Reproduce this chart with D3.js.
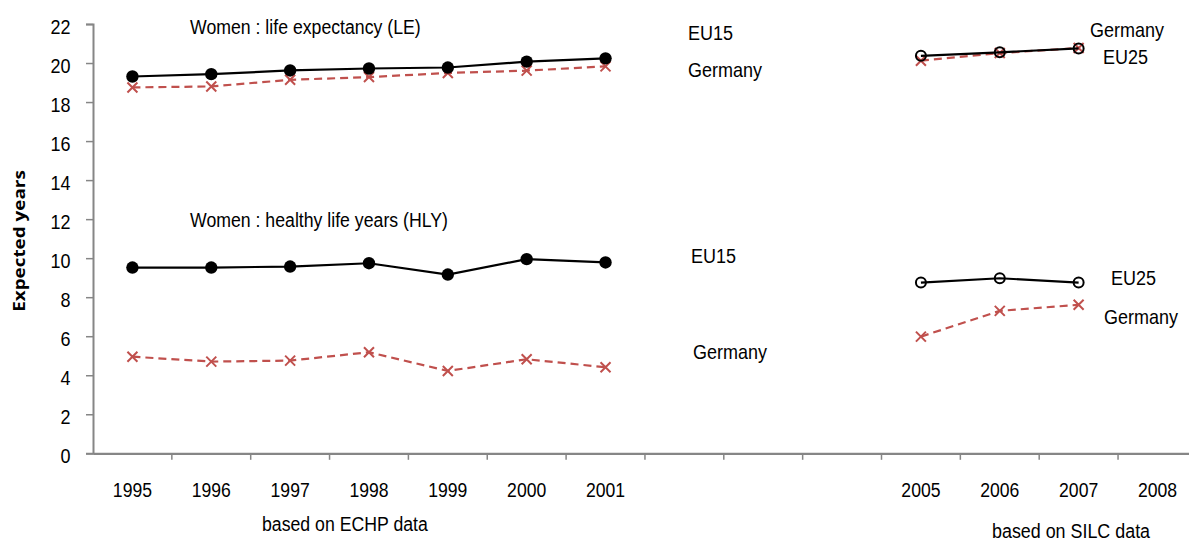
<!DOCTYPE html>
<html>
<head>
<meta charset="utf-8">
<script src="https://cdnjs.cloudflare.com/ajax/libs/d3/7.8.5/d3.min.js"></script>
<style>
  html, body { margin: 0; padding: 0; background: #fff; }
  svg { display: block; }
  text { font-family: "Liberation Sans", Arial, sans-serif; fill: #000; }
</style>
</head>
<body>
<svg id="chart" width="1189" height="543"></svg>
<script>
// ---------------- data ----------------
const years = [1995, 1996, 1997, 1998, 1999, 2000, 2001, 2002, 2003, 2004, 2005, 2006, 2007, 2008];
const xTickLabels = ["1995", "1996", "1997", "1998", "1999", "2000", "2001", "", "", "", "2005", "2006", "2007", "2008"];
const yTicks = [0, 2, 4, 6, 8, 10, 12, 14, 16, 18, 20, 22];

// Life expectancy (LE), women
const leEU15    = [19.31, 19.43, 19.62, 19.72, 19.77, 20.07, 20.24, null, null, null, null, null, null, null];
const leEU25    = [null, null, null, null, null, null, null, null, null, null, 20.37, 20.55, 20.75, null];
const leGermany = [18.75, 18.80, 19.14, 19.28, 19.49, 19.61, 19.83, null, null, null, 20.12, 20.51, 20.77, null];

// Healthy life years (HLY), women
const hlyEU15    = [9.52, 9.52, 9.57, 9.74, 9.16, 9.95, 9.78, null, null, null, null, null, null, null];
const hlyEU25    = [null, null, null, null, null, null, null, null, null, null, 8.75, 8.97, 8.75, null];
const hlyGermany = [4.95, 4.70, 4.75, 5.18, 4.22, 4.82, 4.41, null, null, null, 5.98, 7.30, 7.61, null];

// ---------------- layout ----------------
const svg = d3.select("#chart");
const X0 = 93, BAND = 78.85;
const x = d3.scaleBand().domain(years).range([X0, X0 + BAND * years.length]).paddingInner(0).paddingOuter(0);
const y = d3.scaleLinear().domain([0, 22]).range([453.3, 24]);
const cx = d => x(d) + x.bandwidth() / 2;

const AXIS = "#868686";
const RED = "#c0504d";
const VS = 1.15; // vertical stretch of text

// ---------------- axes ----------------
const yAxis = d3.axisLeft(y).tickValues(yTicks).tickSize(7).tickPadding(0).tickFormat(d3.format("d"));
const gy = svg.append("g").attr("transform", `translate(${X0},0)`).call(yAxis);
gy.select(".domain").attr("stroke", AXIS).attr("stroke-width", 2);
gy.selectAll(".tick line").attr("stroke", AXIS).attr("stroke-width", 1.5);
gy.selectAll(".tick text")
  .attr("x", null).attr("dy", null).attr("y", null)
  .attr("text-anchor", "end")
  .attr("transform", `translate(-22.5,9.5) scale(1,${VS})`)
  .style("font-size", "18px").style("font-family", "Liberation Sans, Arial, sans-serif").attr("fill", "#000");

// x axis: labels at band centres, tick marks at band boundaries
const xAxis = d3.axisBottom(x).tickSize(0).tickPadding(0).tickFormat((d, i) => xTickLabels[i]);
const gx = svg.append("g").attr("transform", `translate(0,${y(0)})`).call(xAxis);
gx.select(".domain").attr("stroke", AXIS).attr("stroke-width", 2.2);
gx.selectAll(".tick text")
  .attr("y", null).attr("dy", null)
  .attr("transform", `translate(0,44) scale(1,${VS})`)
  .style("font-size", "17.6px").style("font-family", "Liberation Sans, Arial, sans-serif").attr("fill", "#000");
svg.append("g").selectAll("line")
  .data(years)
  .join("line")
  .attr("x1", d => x(d) + x.bandwidth())
  .attr("x2", d => x(d) + x.bandwidth())
  .attr("y1", y(0)).attr("y2", y(0) + 6.5)
  .attr("stroke", AXIS).attr("stroke-width", 1.5);

// y axis title
svg.append("text")
  .attr("transform", `translate(25,241) scale(1,1.18) rotate(-90)`)
  .attr("text-anchor", "middle")
  .style("font-family", "'Open Sans', 'Noto Sans', sans-serif")
  .style("font-weight", "bold")
  .style("font-size", "16px")
  .text("Expected years");

// ---------------- series ----------------
const line = d3.line()
  .defined(d => d.v != null)
  .x(d => cx(d.year))
  .y(d => y(d.v));
const toPts = arr => years.map((yr, i) => ({ year: yr, v: arr[i] }));

function drawGermany(arr) {
  const pts = toPts(arr);
  svg.append("path").datum(pts).attr("d", line)
    .attr("fill", "none").attr("stroke", RED).attr("stroke-width", 2.2)
    .attr("stroke-dasharray", "8,5");
  const s = 5;
  const g = svg.append("g").attr("stroke", RED).attr("stroke-width", 2);
  g.selectAll("path").data(pts.filter(d => d.v != null)).join("path")
    .attr("d", d => {
      const px = cx(d.year), py = y(d.v);
      return `M${px - s},${py - s}L${px + s},${py + s}M${px - s},${py + s}L${px + s},${py - s}`;
    });
}
function drawFilled(arr) {
  const pts = toPts(arr);
  svg.append("path").datum(pts).attr("d", line)
    .attr("fill", "none").attr("stroke", "#000").attr("stroke-width", 2.2);
  svg.append("g").selectAll("circle").data(pts.filter(d => d.v != null)).join("circle")
    .attr("cx", d => cx(d.year)).attr("cy", d => y(d.v)).attr("r", 6.2)
    .attr("fill", "#000");
}
function drawOpen(arr) {
  const pts = toPts(arr);
  svg.append("path").datum(pts).attr("d", line)
    .attr("fill", "none").attr("stroke", "#000").attr("stroke-width", 2.2);
  svg.append("g").selectAll("circle").data(pts.filter(d => d.v != null)).join("circle")
    .attr("cx", d => cx(d.year)).attr("cy", d => y(d.v)).attr("r", 5)
    .attr("fill", "none").attr("stroke", "#000").attr("stroke-width", 2);
}

drawGermany(leGermany);
drawFilled(leEU15);
drawOpen(leEU25);
drawGermany(hlyGermany);
drawFilled(hlyEU15);
drawOpen(hlyEU25);

// ---------------- annotations ----------------
function label(txt, px, py, size) {
  svg.append("text")
    .attr("transform", `translate(${px},${py}) scale(1,${VS})`)
    .style("font-size", (size || 18) + "px")
    .text(txt);
}
label("Women : life expectancy (LE)", 190, 33.5, 17.7);
label("Women : healthy life years (HLY)", 190, 227, 17.7);
label("EU15", 688, 40);
label("Germany", 688, 77);
label("Germany", 1090, 36.5);
label("EU25", 1103, 64);
label("EU15", 691, 263);
label("Germany", 693, 359);
label("EU25", 1111, 285);
label("Germany", 1104, 324);
label("based on ECHP data", 262, 531, 17.7);
label("based on SILC data", 992, 538, 17.9);
</script>
</body>
</html>
